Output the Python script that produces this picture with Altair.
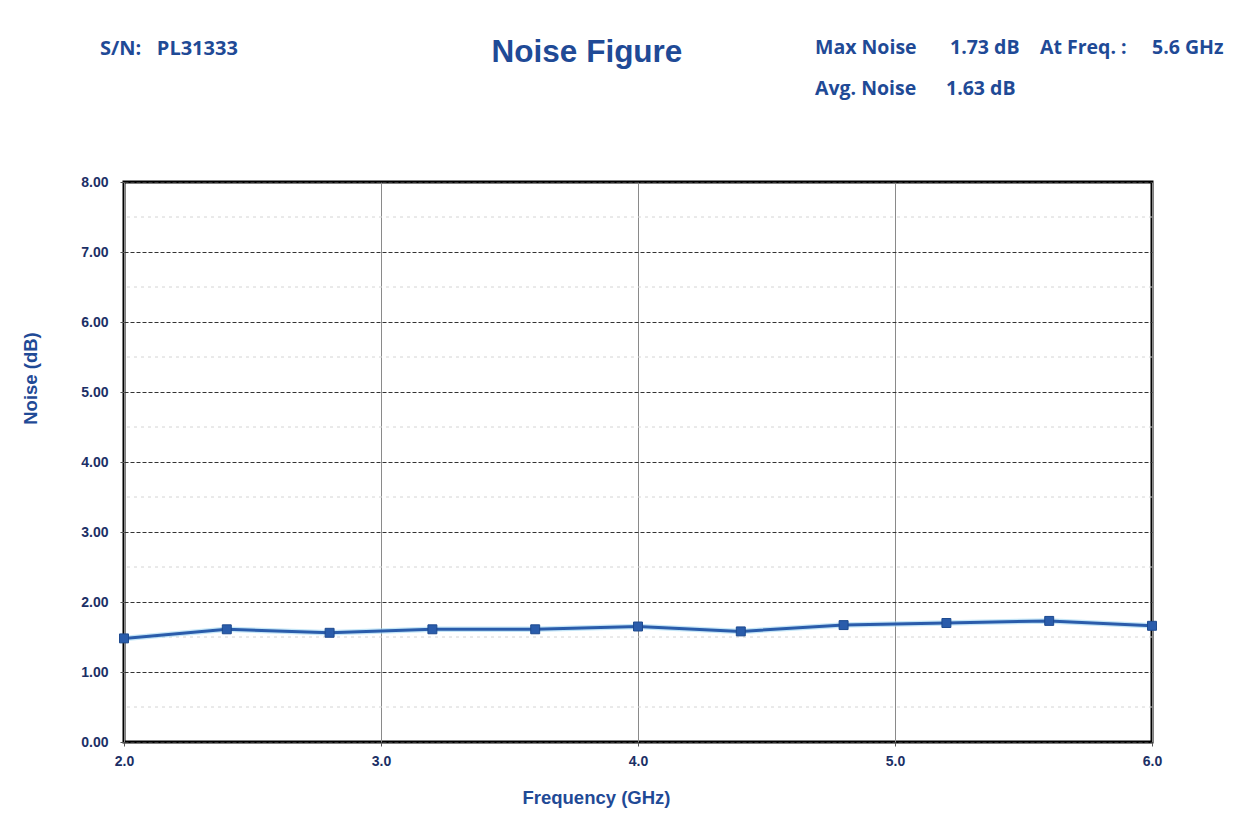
import altair as alt
import pandas as pd

freq = [2.0, 2.4, 2.8, 3.2, 3.6, 4.0, 4.4, 4.8, 5.2, 5.6, 6.0]
noise = [1.48, 1.61, 1.56, 1.61, 1.61, 1.65, 1.58, 1.67, 1.70, 1.73, 1.66]
minor_y = [0.5, 1.5, 2.5, 3.5, 4.5, 5.5, 6.5, 7.5]
x_ticks = [2.0, 3.0, 4.0, 5.0, 6.0]
y_ticks = [0, 1, 2, 3, 4, 5, 6, 7, 8]

df = pd.DataFrame({"freq": freq, "noise": noise})
minor_df = pd.DataFrame({"y": minor_y})

NAVY = "#1b2f66"
BLUE = "#1f4a96"
LINE = "#2a5cab"

xs = alt.Scale(domain=[2, 6], nice=False, zero=False)
ys = alt.Scale(domain=[0, 8], nice=False)

minor = alt.Chart(minor_df).mark_rule(color="#d4d4d4", strokeDash=[3, 4], strokeWidth=1).encode(
    y=alt.Y("y:Q", scale=ys)
)

base = alt.Chart(df).encode(
    x=alt.X("freq:Q", scale=xs,
            axis=alt.Axis(values=x_ticks, format=".1f", title="Frequency (GHz)",
                          grid=True, gridColor="#8a8a8a", gridWidth=1,
                          labelFlush=False, titleX=472, titlePadding=20)),
    y=alt.Y("noise:Q", scale=ys,
            axis=alt.Axis(values=y_ticks, format=".2f", title="Noise (dB)",
                          grid=True, gridColor="#333333", gridDash=[4, 2], gridWidth=1.2,
                          titleY=196, titlePadding=40)),
)

halo = base.mark_line(color="#9fd6f2", strokeWidth=5.5, opacity=0.6)
line = base.mark_line(color=LINE, strokeWidth=3)
pts = base.mark_point(shape="square", filled=True, size=80, color=LINE, opacity=1,
                      stroke="#1d4a8f", strokeWidth=1)

def txt(s, x, y, size, font="Open Sans", color=BLUE, align="left"):
    return alt.Chart(pd.DataFrame({"t": [s]})).mark_text(
        font=font, fontSize=size, fontWeight="bold", color=color, align=align, baseline="alphabetic"
    ).encode(text="t:N", x=alt.value(x), y=alt.value(y))

headers = [
    txt("S/N:\u00a0\u00a0 PL31333", -24, -127, 20),
    txt("Noise Figure", 463, -120, 31.5, font="Liberation Sans", align="center"),
    txt("Max Noise", 691, -128, 19.5),
    txt("1.73 dB", 826, -128, 19.5),
    txt("At Freq. :", 916, -128, 19.5),
    txt("5.6 GHz", 1028, -128, 19.5),
    txt("Avg. Noise", 691, -87, 19.5),
    txt("1.63 dB", 822, -87, 19.5),
]

chart = alt.layer(minor, halo, line, pts, *headers).properties(
    width=1028, height=560,
    autosize=alt.AutoSizeParams(type="none"),
    padding={"left": 116, "top": 174, "right": 80, "bottom": 83},
    background="white",
).configure_view(
    stroke="black", strokeWidth=3
).configure_axis(
    labelFont="Liberation Sans", labelFontWeight="bold", labelFontSize=14, labelColor=NAVY,
    titleFont="Liberation Sans", titleFontWeight="bold", titleFontSize=18.5, titleColor=BLUE,
    domain=False, ticks=True, tickColor="#555555", tickSize=4,
).configure_axisY(labelPadding=12).configure_axisX(labelPadding=8)

chart.save("out.html", embed_options={"renderer": "svg", "actions": False})
